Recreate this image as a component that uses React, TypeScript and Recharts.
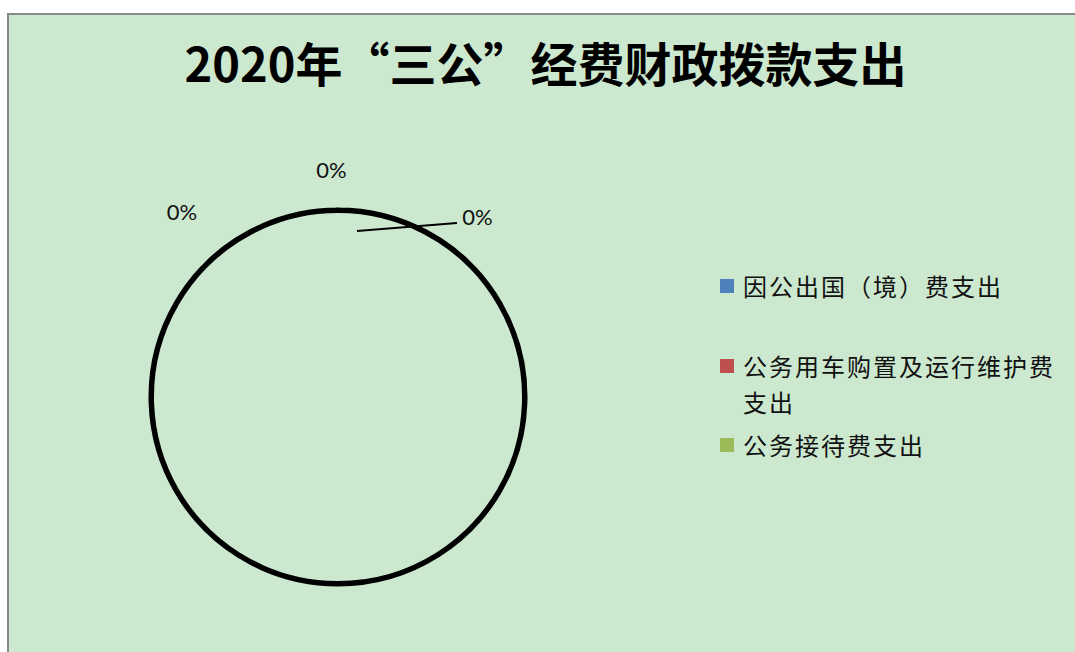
import { Legend, Pie, PieChart } from "recharts";

const title = "2020年“三公”经费财政拨款支出";
const categories = ["因公出国（境）费支出", "公务用车购置及运行维护费支出", "公务接待费支出"];
const amounts = [0, 0, 0];
const colors = ["#4f81bd", "#c0504d", "#9bbb59"];

// every slice is zero, so the pie is only its outline
const outline = [{ name: "合计", value: 1 }];

const bg = "#cce8cf";
const cx = 329;
const cy = 382;
const radius = 187;

// label offsets from the centre (Excel spreads the stacked zero labels)
const labelSpots = [
  { dx: -6.5, dy: -228 },
  { dx: 139.5, dy: -181, line: [19, -166, 119, -174] },
  { dx: -156, dy: -186 },
];

const total = amounts.reduce((a, b) => a + b, 0);
const pct = (v: number) => `${Math.round((total ? v / total : 0) * 100)}%`;

function renderLabels(props: any) {
  const x0 = props.cx;
  const y0 = props.cy;
  return (
    <g>
      {amounts.map((v, i) => {
        const s = labelSpots[i];
        return (
          <g key={categories[i]}>
            {s.line && (
              <line
                x1={x0 + s.line[0]}
                y1={y0 + s.line[1]}
                x2={x0 + s.line[2]}
                y2={y0 + s.line[3]}
                stroke="#000"
                strokeWidth={2}
              />
            )}
            <text
              x={x0 + s.dx}
              y={y0 + s.dy}
              textAnchor="middle"
              dominantBaseline="central"
              fontFamily="Lato, 'Noto Sans', sans-serif"
              fontSize={22}
              fill="#111"
            >
              {pct(v)}
            </text>
          </g>
        );
      })}
    </g>
  );
}

const gaps = [44, 7, 0];

function renderLegend() {
  return (
    <div style={{ fontFamily: "'Noto Sans CJK SC', sans-serif", fontSize: 24, color: "#111" }}>
      {categories.map((c, i) => (
        <div key={c} style={{ display: "flex", alignItems: "flex-start", marginBottom: gaps[i] }}>
          <span style={{ width: 14, height: 14, marginTop: 11, background: colors[i], flexShrink: 0 }} />
          <span style={{ marginLeft: 9, width: 320, lineHeight: "36px", letterSpacing: 2 }}>{c}</span>
        </div>
      ))}
    </div>
  );
}

export default function App() {
  return (
    <div
      style={{
        position: "fixed",
        left: 7,
        top: 13,
        width: 1068,
        height: 639,
        boxSizing: "border-box",
        borderTop: "2px solid #888",
        borderLeft: "2px solid #888",
        background: bg,
        overflow: "hidden",
      }}
    >
      <PieChart width={1066} height={637} margin={{ top: 0, right: 0, bottom: 0, left: 0 }}>
        <Pie
          data={outline}
          dataKey="value"
          nameKey="name"
          cx={cx}
          cy={cy}
          innerRadius={radius - 0.5}
          outerRadius={radius}
          startAngle={90}
          endAngle={-270}
          fill="none"
          stroke="#000"
          strokeWidth={5}
          label={renderLabels}
          labelLine={false}
          isAnimationActive={false}
        />
        <Legend
          content={renderLegend}
          layout="vertical"
          verticalAlign="top"
          align="right"
          wrapperStyle={{ left: 711, top: 253, right: "auto", width: 360 }}
        />
      </PieChart>
      <div
        style={{
          position: "absolute",
          left: 0,
          top: 23,
          width: 1073,
          textAlign: "center",
          fontFamily: "'Noto Sans CJK SC', sans-serif",
          fontWeight: 700,
          fontSize: 47,
          lineHeight: "48px",
          color: "#000",
          pointerEvents: "none",
        }}
      >
        {title}
      </div>
    </div>
  );
}
